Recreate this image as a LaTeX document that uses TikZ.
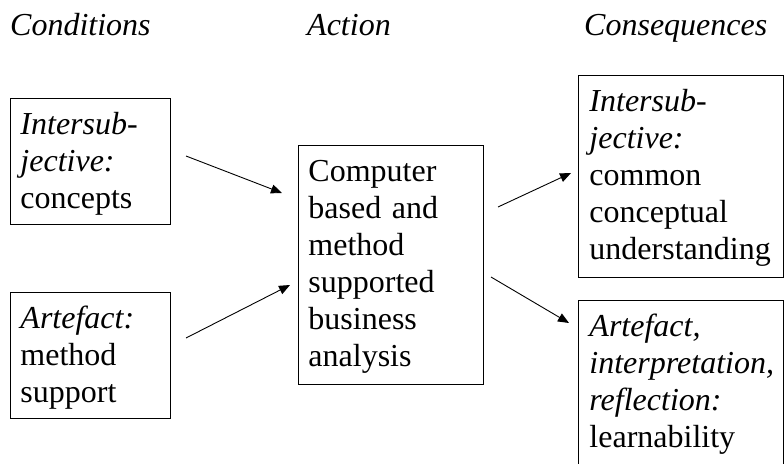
\documentclass[tikz,border=0pt]{standalone}
\usepackage{fontspec}
\setmainfont{Liberation Serif}
\usetikzlibrary{arrows.meta}
\begin{document}
\begin{tikzpicture}[x=1pt,y=-1pt,
  bodyfont/.style={font=\fontsize{32}{37}\selectfont},
  box/.style={bodyfont, draw, line width=0.9pt, align=left, anchor=north west, inner xsep=10pt, inner ysep=0pt, text height=36pt},
  head/.style={anchor=base west, inner sep=0pt, font=\fontsize{32}{37}\selectfont\itshape},
  arr/.style={line width=0.9pt, -{Triangle[length=11pt,width=9pt]}}]
\useasboundingbox (0,0) rectangle (784,463);
\clip (0,0) rectangle (784,463);
% headers
\node[head] (h1) at (10,35) {Conditions};
\node[head] (h2) at (307,35) {Action};
\node[head] (h3) at (584,35) {Consequences};
% boxes
\node[box, text width=140pt, text depth=90pt] (c1) at (10,98)
  {\textit{Intersub-}\\\textit{jective:}\\concepts};
\node[box, text width=140pt, text depth=90pt] (c2) at (10,292)
  {\textit{Artefact:}\\method\\support};
\node[box, text width=165pt, text depth=203pt] (act) at (298,145)
  {Computer\\based and\\method\\supported\\business\\analysis};
\node[box, inner xsep=11pt, text width=183pt, text depth=166pt] (r1) at (578,75)
  {\textit{Intersub-}\\\textit{jective:}\\common\\conceptual\\understanding};
\node[box, inner xsep=11pt, text width=183pt, text depth=130pt] (r2) at (578,300)
  {\textit{Artefact,}\\\mbox{\textit{interpretation,}}\\\textit{reflection:}\\learnability};
% connector ends
\coordinate (a1s) at (186,156); \coordinate (a1e) at (282,193);
\coordinate (a2s) at (186,338); \coordinate (a2e) at (290,285);
\coordinate (a3s) at (498,207); \coordinate (a3e) at (571,173);
\coordinate (a4s) at (491,277); \coordinate (a4e) at (569,323);
\draw[arr] (a1s) -- (a1e);
\draw[arr] (a2s) -- (a2e);
\draw[arr] (a3s) -- (a3e);
\draw[arr] (a4s) -- (a4e);
\end{tikzpicture}
\end{document}
